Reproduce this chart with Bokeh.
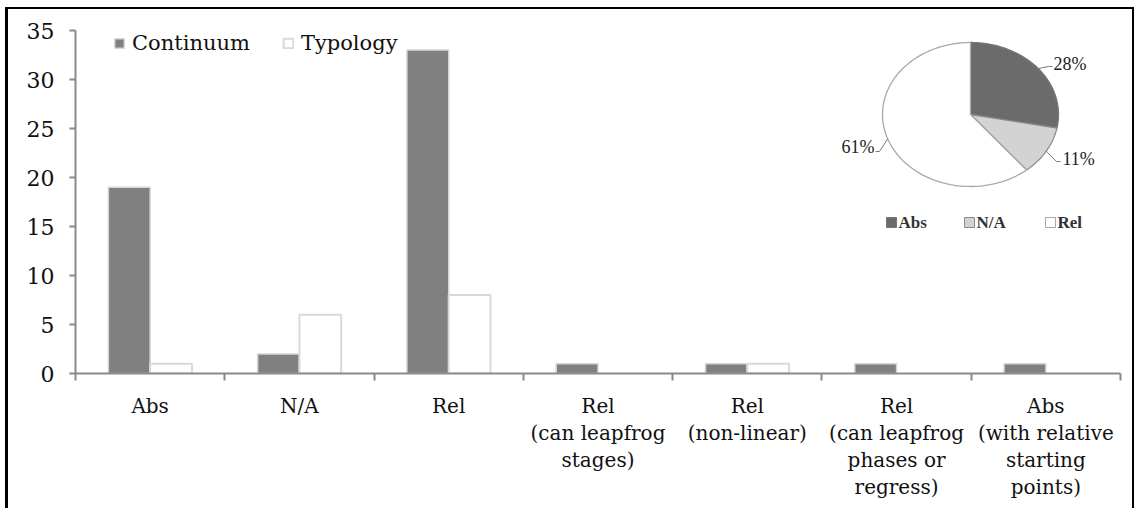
import numpy as np
from bokeh.plotting import figure
from bokeh.models import ColumnDataSource, Range1d, FixedTicker, Legend, LegendItem
from bokeh.core.properties import value
from bokeh.embed import file_html
from bokeh.resources import INLINE

# ---- data ----
categories = ["Abs", "N/A", "Rel", "Rel\n(can leapfrog\nstages)", "Rel\n(non-linear)",
              "Rel\n(can leapfrog\nphases or\nregress)", "Abs\n(with relative\nstarting\npoints)"]
continuum = [19, 2, 33, 1, 1, 1, 1]
typology = [1, 6, 8, 0, 1, 0, 0]
y_ticks = [0, 5, 10, 15, 20, 25, 30, 35]
pie_labels = ["Abs", "N/A", "Rel"]
pie_shares = [28, 11, 61]
pie_share_text = ["28%", "11%", "61%"]

# ---- style ----
GRAY_AX = "#898989"
FONT = "DejaVu Serif"
PIE_FONT = "Liberation Serif"
BAR_W = 0.28
FRAME_W, FRAME_H = 1045, 343

n = len(categories)
p = figure(width=1129, height=501, x_range=Range1d(0, n), y_range=Range1d(0, 35),
           output_backend="svg", toolbar_location=None,
           min_border_left=67, min_border_right=17, min_border_top=21, min_border_bottom=137)
p.styles = {"margin-left": "5px", "margin-top": "7px",
            "border-left": "3px solid black", "border-top": "2px solid black",
            "border-right": "2px solid black"}
p.xgrid.visible = False
p.ygrid.visible = False
p.outline_line_color = None
p.background_fill_color = "white"
p.border_fill_color = "white"

# x axis: labels at category centres, ticks at boundaries
xa = p.xaxis[0]
xa.ticker = FixedTicker(ticks=[i + 0.5 for i in range(n)], minor_ticks=[float(i) for i in range(n + 1)])
xa.major_label_overrides = {i + 0.5: categories[i] for i in range(n)}
xa.major_tick_line_color = None
xa.major_tick_out = 0
xa.major_tick_in = 0
xa.minor_tick_out = 7
xa.minor_tick_in = 0
xa.minor_tick_line_color = GRAY_AX
xa.minor_tick_line_width = 2
xa.axis_line_color = GRAY_AX
xa.axis_line_width = 2
xa.major_label_standoff = 13
xa.major_label_text_font = FONT
xa.major_label_text_font_size = "20px"
xa.major_label_text_color = "#111111"
xa.major_label_text_line_height = 1.13

ya = p.yaxis[0]
ya.ticker = FixedTicker(ticks=y_ticks, minor_ticks=[])
ya.major_tick_out = 6
ya.major_tick_in = 0
ya.major_tick_line_color = GRAY_AX
ya.major_tick_line_width = 2
ya.minor_tick_line_color = None
ya.axis_line_color = GRAY_AX
ya.axis_line_width = 2
ya.major_label_standoff = 15
ya.major_label_text_font = FONT
ya.major_label_text_font_size = "22px"
ya.major_label_text_color = "#111111"

# ---- bars ----
xs = np.arange(n) + 0.5
src_c = ColumnDataSource(dict(x=xs - BAR_W / 2, top=continuum))
t_idx = [i for i, v in enumerate(typology) if v > 0]
src_t = ColumnDataSource(dict(x=[xs[i] + BAR_W / 2 for i in t_idx], top=[typology[i] for i in t_idx]))
rc = p.vbar(x="x", top="top", width=BAR_W, source=src_c, fill_color="#808080",
            line_color="#d6d6d6", line_width=1.5)
rt = p.vbar(x="x", top="top", width=BAR_W, source=src_t, fill_color="white",
            line_color="#d9d9d9", line_width=2)

legend = Legend(items=[LegendItem(label="Continuum", renderers=[rc]),
                       LegendItem(label="Typology", renderers=[rt])],
                orientation="horizontal", location=(38, FRAME_H - 25), padding=0, spacing=32,
                glyph_width=12, glyph_height=12, label_standoff=7,
                border_line_color=None, background_fill_alpha=0,
                label_text_font=FONT, label_text_font_size="21px", label_text_color="#111111")
p.add_layout(legend)

# ---- pie (pixel-unit ranges inside the frame) ----
p.extra_x_ranges = {"px": Range1d(0, FRAME_W)}
p.extra_y_ranges = {"px": Range1d(0, FRAME_H)}
cx, cy, rx, ry = 895, 259, 88, 72
fracs = np.array(pie_shares, dtype=float) / sum(pie_shares)
edges = np.concatenate([[0], np.cumsum(fracs)]) * 2 * np.pi
pxs, pys = [], []
for a0, a1 in zip(edges[:-1], edges[1:]):
    th = np.linspace(a0, a1, 80)
    pxs.append([cx] + list(cx + rx * np.sin(th)))
    pys.append([cy] + list(cy + ry * np.cos(th)))
pie_fill = ["#6b6b6b", "#d3d3d3", "white"]
pie_line = ["#777777", "#8a8a8a", "#a8a8a8"]
p.patches(xs=pxs, ys=pys, fill_color=pie_fill, line_color=pie_line, line_width=1.3,
          x_range_name="px", y_range_name="px")

# labels with leader lines from mid-arc
mids = (edges[:-1] + edges[1:]) / 2
label_pos = [(978, 310, "left"), (987, 215, "left"), (799, 227, "right")]
leader_end = [(977, 307), (985, 212), (800, 222)]
lx, ly = [], []
for m, (ex, ey) in zip(mids, leader_end):
    sx, sy = cx + rx * np.sin(m), cy + ry * np.cos(m)
    if ex > sx:
        lx.append([sx, ex - 4, ex]); ly.append([sy, ey, ey])
    else:
        lx.append([sx, ex + 4, ex]); ly.append([sy, ey, ey])
p.multi_line(xs=lx, ys=ly, line_color="#7a7a7a", line_width=1, x_range_name="px", y_range_name="px")
for (x, y, al), t in zip(label_pos, pie_share_text):
    p.text(x=[x], y=[y], text=[t], text_align=al, text_baseline="middle",
           text_font=value(PIE_FONT), text_font_size="18px", text_color="#222222",
           x_range_name="px", y_range_name="px")

# pie legend
leg_x = [816, 894, 975]
leg_y = 151
p.rect(x=leg_x, y=[leg_y] * 3, width=10, height=10, width_units="screen", height_units="screen",
       fill_color=pie_fill, line_color=pie_line, line_width=1, x_range_name="px", y_range_name="px")
p.text(x=[v + 7 for v in leg_x], y=[leg_y] * 3, text=pie_labels, text_align="left",
       text_baseline="middle", text_font=value(PIE_FONT), text_font_size="17px",
       text_font_style="bold", text_color="#333333", x_range_name="px", y_range_name="px")

open("out.html", "w").write(file_html(p, INLINE))
